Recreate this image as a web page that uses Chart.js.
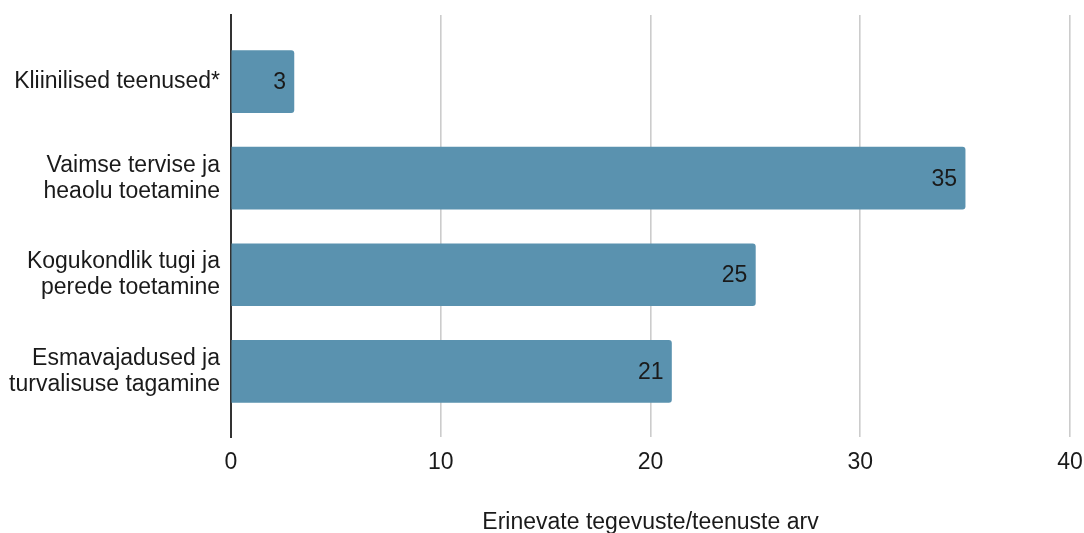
<!DOCTYPE html>
<html>
<head>
<meta charset="utf-8">
<script src="https://cdn.jsdelivr.net/npm/chart.js@4/dist/chart.umd.min.js"></script>
<style>
html,body{margin:0;padding:0;background:#fff;}
#wrap{width:1084px;height:533px;}
</style>
</head>
<body>
<div id="wrap"><canvas id="c" width="1084" height="533"></canvas></div>
<script>
const categories = [
  ["Kliinilised teenused*"],
  ["Vaimse tervise ja", "heaolu toetamine"],
  ["Kogukondlik tugi ja", "perede toetamine"],
  ["Esmavajadused ja", "turvalisuse tagamine"]
];
const values = [3, 35, 25, 21];
const xTicks = [0, 10, 20, 30, 40];
const xTitle = "Erinevate tegevuste/teenuste arv";

const FONT = "'Liberation Sans', Arial, sans-serif";

const labelPlugin = {
  id: 'barLabels',
  afterDatasetsDraw(chart) {
    const ctx = chart.ctx;
    const meta = chart.getDatasetMeta(0);
    ctx.save();
    ctx.font = "23px " + FONT;
    ctx.fillStyle = "#1a1a1a";
    ctx.textAlign = "right";
    ctx.textBaseline = "middle";
    meta.data.forEach((bar, i) => {
      ctx.fillText(String(values[i]), bar.x - 8, bar.y + 1);
    });
    ctx.restore();
  }
};

new Chart(document.getElementById('c'), {
  type: 'bar',
  data: {
    datasets: [{
      data: values.map((v, i) => ({x: v, y: i})),
      backgroundColor: '#5a92af',
      borderWidth: 0,
      borderRadius: 3,
      barThickness: 62
    }]
  },
  options: {
    indexAxis: 'y',
    responsive: false,
    animation: false,
    devicePixelRatio: 1,
    layout: {padding: {top: 15, right: 14, left: 0, bottom: 0}},
    plugins: {legend: {display: false}, tooltip: {enabled: false}},
    scales: {
      x: {
        type: 'linear',
        min: 0, max: 40,
        afterBuildTicks(scale) { scale.ticks = xTicks.map(v => ({value: v})); },
        afterFit(scale) { scale.height = 96; scale.paddingLeft = 0; scale.paddingRight = 0; },
        grid: {color: '#cccccc', lineWidth: 1.6, drawTicks: false},
        border: {display: false},
        ticks: {font: {family: FONT, size: 23}, color: '#1a1a1a', padding: 12},
        title: {display: true, text: xTitle, font: {family: FONT, size: 23, lineHeight: 1.0}, color: '#1a1a1a', padding: {top: 4, bottom: -1}}
      },
      y: {
        type: 'linear',
        reverse: true,
        offset: false,
        min: -0.69, max: 3.68,
        afterBuildTicks(scale) { scale.ticks = categories.map((c, i) => ({value: i})); },
        afterFit(scale) { scale.width = 231; scale.paddingTop = 0; scale.paddingBottom = 0; },
        grid: {display: false, drawTicks: false, offset: false},
        border: {display: true, color: '#333333', width: 2},
        ticks: {
          font: {family: FONT, size: 23, lineHeight: 1.13},
          color: '#1a1a1a',
          padding: 11,
          callback: (v) => categories[v]
        }
      }
    }
  },
  plugins: [labelPlugin]
});
</script>
</body>
</html>
